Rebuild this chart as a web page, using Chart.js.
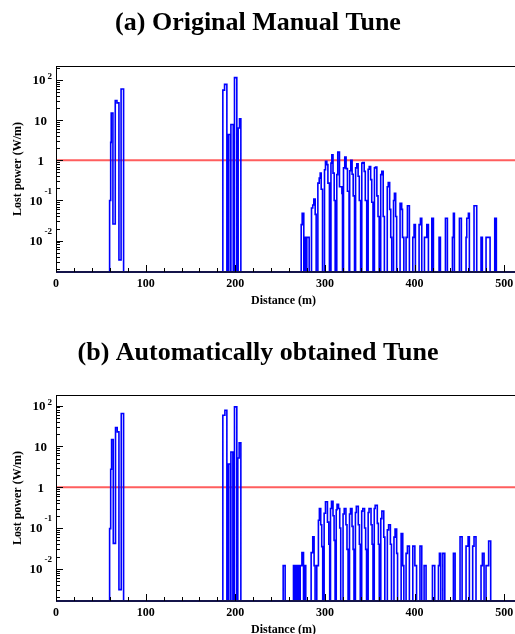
<!DOCTYPE html>
<html>
<head>
<meta charset="utf-8">
<script src="https://cdn.jsdelivr.net/npm/chart.js@4/dist/chart.umd.min.js"></script>
<style>
  html,body{margin:0;padding:0;background:#fff;width:515px;height:634px;overflow:hidden;}
  .panel{position:absolute;left:0;width:515px;height:317px;}
  #pa{top:0;} #pb{top:317px;}
</style>
</head>
<body>
<div class="panel" id="pa"><canvas id="ca" width="515" height="317"></canvas></div>
<div class="panel" id="pb"><canvas id="cb" width="515" height="317"></canvas></div>
<script>
// ---------- data (distance in m, lost power in W/m) ----------
const titleA = "(a) Original Manual Tune";
const titleB = "(b) Automatically obtained Tune";
const xTitle = "Distance (m)";
const yTitle = "Lost power (W/m)";
const xTickValues = [0, 100, 200, 300, 400, 500];
const yTickValues = [0.01, 0.1, 1, 10, 100];
const yTickBase   = ["10", "10", "1", "10", "10"];
const yTickExp    = ["-2", "-1", "", "", "2"];
const threshold = 1;

// Panel (a): histogram bins [start, end, value]
const aStart = [59.8,61.0,61.6,63.5,66.1,68.0,70.2,72.6,
  186.1,188.0,192.1,195.1,199.1,203.2,204.7,
  273.5,274.6,277.6,279.8,
  285.0,286.4,287.6,289.1,
  292.1,293.6,294.7,295.8,
  299.5,300.6,302.1,303.3,
  306.7,307.7,309.0,310.3,
  313.2,314.3,316.2,318.9,
  320.7,322.1,323.6,325.1,
  327.6,328.8,330.3,331.5,
  334.2,335.5,337.0,338.3,
  341.1,342.2,343.8,345.0,
  348.2,349.4,351.0,352.2,
  355.2,356.4,357.9,359.2,
  362.2,363.4,365.0,
  369.5,370.6,372.2,373.4,
  376.5,377.5,378.9,
  383.8,385.6,386.5,
  390.5,392.0,
  398.0,399.4,
  405.0,406.5,
  411.0,413.6,
  419.2,427.3,434.4,
  442.2,443.3,
  450.0,
  457.4,458.2,460.0,
  466.3,474.1,479.7,489.4];
const aEnd = [61.0,61.6,63.5,66.1,68.0,70.2,72.6,75.4,
  188.0,190.6,194.3,197.7,201.7,204.7,206.2,
  274.6,276.4,278.7,282.4,
  286.4,287.6,289.1,290.2,
  293.6,294.7,295.8,297.3,
  300.6,302.1,303.3,305.0,
  307.7,309.0,310.3,311.4,
  314.3,316.2,318.9,319.6,
  322.1,323.6,325.1,326.9,
  328.8,330.3,331.5,333.0,
  335.5,337.0,338.3,339.8,
  342.2,343.8,345.0,346.6,
  349.4,351.0,352.2,353.6,
  356.4,357.9,359.2,360.5,
  363.4,365.0,366.3,
  370.6,372.2,373.4,374.5,
  377.5,378.9,380.0,
  385.6,386.5,388.0,
  392.0,394.2,
  399.4,400.9,
  406.5,408.0,
  413.6,415.4,
  421.0,428.8,436.6,
  443.3,444.4,
  452.2,
  458.2,460.0,461.1,
  469.3,475.6,484.2,491.2];
const aLoss = [0.10,2.8,15,0.026,31,27,0.0033,60,
  56,78,4.4,7.8,115,6.4,10.8,
  0.025,0.048,0.012,0.012,
  0.065,0.077,0.108,0.045,
  0.27,0.36,0.48,0.19,
  0.58,0.94,0.78,0.27,
  0.85,1.38,0.48,0.10,
  0.44,1.6,0.22,0.15,
  0.65,1.2,0.62,0.17,
  0.55,1.0,0.45,0.13,
  0.65,0.82,0.40,0.10,
  0.85,0.88,0.53,0.10,
  0.60,0.70,0.33,0.09,
  0.65,0.68,0.13,0.04,
  0.44,0.53,0.04,
  0.22,0.28,0.06,0.012,
  0.10,0.15,0.04,
  0.085,0.06,0.012,
  0.012,0.074,
  0.012,0.025,
  0.025,0.036,
  0.012,0.025,
  0.036,0.012,0.036,
  0.012,0.048,
  0.036,
  0.012,0.036,0.048,
  0.074,0.012,0.012,0.036];

// Panel (b)
const bStart = [59.8,61.0,62.0,63.9,66.4,68.3,70.2,72.8,
  186.1,188.4,192.1,195.1,199.1,202.8,204.3,
  253.4,264.9,267.9,269.8,272.4,274.3,277.0,
  284.6,286.4,287.9,
  290.9,292.7,293.8,295.3,296.4,
  299.1,300.6,302.8,304.3,
  306.2,307.3,309.0,310.2,
  312.6,313.5,315.2,316.5,
  320.2,321.5,323.4,324.6,
  327.4,328.5,330.2,331.4,
  334.0,335.0,337.2,338.4,
  341.0,342.2,344.2,345.4,
  348.2,349.2,351.4,352.6,
  355.0,356.0,358.4,359.6,
  362.3,363.5,365.6,
  369.6,371.0,373.0,
  377.0,378.2,380.0,
  385.0,386.8,
  390.5,392.0,
  398.0,400.3,
  406.0,410.6,419.9,
  426.6,427.7,
  431.5,443.3,450.7,
  457.4,459.7,
  464.8,466.3,
  474.1,475.6,
  479.7,482.6];
const bEnd = [61.0,62.0,63.9,66.4,68.3,70.2,72.8,75.4,
  188.4,190.6,194.3,197.3,201.7,204.3,206.2,
  255.6,266.4,269.3,271.2,274.3,276.1,278.6,
  286.4,287.9,289.0,
  292.7,293.8,295.3,296.4,297.5,
  300.6,302.8,304.3,305.3,
  307.3,309.0,310.2,311.3,
  313.5,315.2,316.5,317.6,
  321.5,323.4,324.6,325.8,
  328.5,330.2,331.4,332.4,
  335.0,337.2,338.4,339.4,
  342.2,344.2,345.4,346.4,
  349.2,351.4,352.6,353.6,
  356.0,358.4,359.6,360.6,
  363.5,365.6,366.8,
  371.0,373.0,374.2,
  378.2,380.0,381.0,
  386.8,388.0,
  392.0,394.2,
  400.3,402.2,
  408.0,412.8,422.5,
  427.7,429.2,
  433.7,445.2,453.0,
  459.7,461.1,
  466.3,468.5,
  475.6,477.5,
  482.6,484.9];
const bLoss = [0.097,2.76,14.8,0.042,29,22.7,0.0031,64,
  58,77,3.7,7.3,93,5.2,12.2,
  0.012,0.012,0.012,0.012,0.012,0.025,0.012,
  0.025,0.061,0.012,
  0.012,0.155,0.30,0.12,0.035,
  0.23,0.44,0.14,0.04,
  0.30,0.45,0.20,0.05,
  0.28,0.38,0.30,0.10,
  0.22,0.30,0.12,0.03,
  0.22,0.30,0.11,0.03,
  0.24,0.34,0.12,0.04,
  0.26,0.30,0.10,0.03,
  0.24,0.30,0.12,0.04,
  0.30,0.36,0.13,0.04,
  0.17,0.26,0.06,
  0.09,0.12,0.04,
  0.06,0.095,0.024,
  0.073,0.012,
  0.024,0.036,
  0.036,0.012,
  0.036,0.012,0.012,
  0.012,0.024,
  0.024,0.024,0.061,
  0.036,0.061,
  0.036,0.061,
  0.012,0.024,
  0.012,0.048];

// ---------- helpers ----------
const FLOOR = 1e-6;
const X_MAX = 512;
function histPoints(starts, ends, vals) {
  const pts = [{x: 0, y: FLOOR}];
  for (let i = 0; i < starts.length; i++) {
    pts.push({x: starts[i], y: vals[i]});
    const nextStart = i + 1 < starts.length ? starts[i + 1] : null;
    if (nextStart === null || nextStart > ends[i] + 1e-6) pts.push({x: ends[i], y: FLOOR});
  }
  pts.push({x: X_MAX, y: FLOOR});
  return pts;
}

const SERIF = '"Liberation Serif","DejaVu Serif",serif';

const framePlugin = {
  id: 'frame',
  afterDatasetsDraw(chart, args, opts) {
    const ctx = chart.ctx;
    const {left, right, top, bottom} = chart.chartArea;
    const xs = chart.scales.x, ys = chart.scales.y;
    ctx.save();
    ctx.strokeStyle = '#000';
    ctx.lineWidth = 1;
    ctx.beginPath();
    ctx.moveTo(left, top + 0.5); ctx.lineTo(right, top + 0.5);
    ctx.moveTo(left + 0.5, top); ctx.lineTo(left + 0.5, bottom);
    ctx.stroke();
    ctx.strokeStyle = '#14144a';
    ctx.lineWidth = 2;
    ctx.beginPath();
    ctx.moveTo(left, bottom); ctx.lineTo(right, bottom);
    ctx.stroke();
    ctx.strokeStyle = '#000';
    ctx.lineWidth = 1;
    ctx.beginPath();
    for (let e = -3; e <= 2; e++) {
      for (let m = 1; m <= 9; m++) {
        const v = m * Math.pow(10, e);
        if (v < ys.min || v > ys.max) continue;
        const py = Math.round(ys.getPixelForValue(v)) + 0.5;
        const len = m === 1 ? 7 : 4;
        ctx.moveTo(left, py); ctx.lineTo(left + len, py);
      }
    }
    for (let v = 0; v <= xs.max; v += 20) {
      const px = Math.round(xs.getPixelForValue(v)) + 0.5;
      const len = v % 100 === 0 ? 7 : 4;
      ctx.moveTo(px, bottom); ctx.lineTo(px, bottom - len);
    }
    ctx.stroke();
    ctx.fillStyle = '#000';
    ctx.font = 'bold 12px ' + SERIF;
    ctx.textAlign = 'center';
    ctx.textBaseline = 'middle';
    xTickValues.forEach(v => {
      ctx.fillText(String(v), xs.getPixelForValue(v), bottom + 12);
    });
    yTickValues.forEach((v, i) => {
      const py = ys.getPixelForValue(v);
      ctx.font = 'bold 13px ' + SERIF;
      ctx.textBaseline = 'middle';
      if (yTickExp[i] === '') {
        ctx.textAlign = 'right';
        ctx.fillText(yTickBase[i], yTickBase[i] === '1' ? 44 : 47, py + 1);
      } else {
        ctx.font = 'bold 9px ' + SERIF;
        ctx.textAlign = 'right';
        const supY = yTickExp[i].startsWith('-') ? py - 9 : py - 3;
        ctx.fillText(yTickExp[i], 52, supY);
        const w = ctx.measureText(yTickExp[i]).width;
        ctx.font = 'bold 13px ' + SERIF;
        ctx.fillText(yTickBase[i], 52 - w - 2, py + 1);
      }
    });
    ctx.font = 'bold 12px ' + SERIF;
    ctx.textAlign = 'center';
    ctx.fillText(xTitle, (left + right) / 2 - 2, bottom + 29);
    ctx.save();
    ctx.translate(18, (top + bottom) / 2);
    ctx.rotate(-Math.PI / 2);
    ctx.fillText(yTitle, 0, 0);
    ctx.restore();
    ctx.font = 'bold 26px ' + SERIF;
    ctx.textAlign = 'center';
    ctx.fillText(opts.text, 258, opts.titleY);
    ctx.restore();
  }
};

function makeChart(id, pts, yMin, yMax, pad, title, titleY) {
  return new Chart(document.getElementById(id), {
    type: 'line',
    data: {
      datasets: [
        {data: [{x: 0, y: threshold}, {x: X_MAX, y: threshold}], borderColor: 'rgba(255,40,40,0.75)', borderWidth: 2, pointRadius: 0, fill: false, order: 2},
        {data: pts, stepped: true, borderColor: '#0000ff', borderWidth: 1.6, pointRadius: 0, fill: false, order: 1}
      ]
    },
    options: {
      responsive: false,
      animation: false,
      devicePixelRatio: 1,
      layout: {padding: pad},
      plugins: {legend: {display: false}, tooltip: {enabled: false}, frame: {text: title, titleY: titleY}},
      scales: {
        x: {type: 'linear', min: 0, max: X_MAX, display: false},
        y: {type: 'logarithmic', min: yMin, max: yMax, display: false}
      }
    },
    plugins: [framePlugin]
  });
}

makeChart('ca', histPoints(aStart, aEnd, aLoss), 1.65e-3, 224, {left: 56, right: 0, top: 66, bottom: 45}, titleA, 23);
makeChart('cb', histPoints(bStart, bEnd, bLoss), 1.63e-3, 182, {left: 56, right: 0, top: 78, bottom: 33}, titleB, 36);
</script>
</body>
</html>
